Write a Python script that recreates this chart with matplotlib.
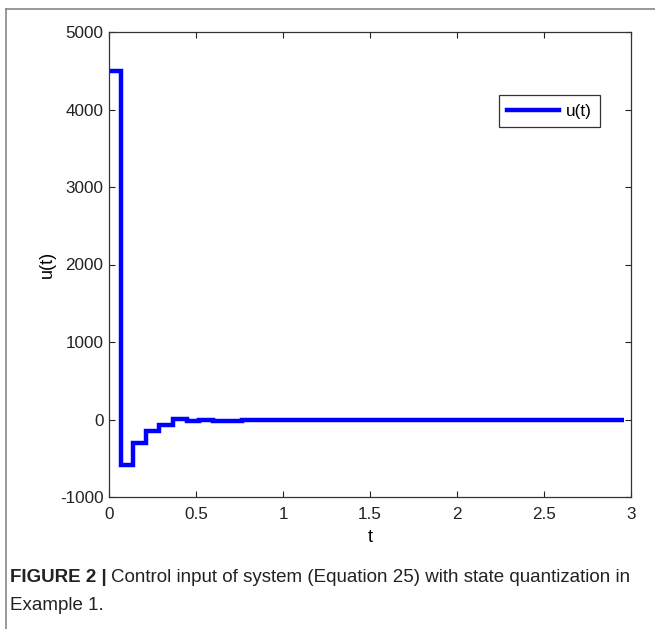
import matplotlib
matplotlib.use("Agg")
import matplotlib.pyplot as plt
from matplotlib.lines import Line2D

plt.rcParams['font.family'] = ['Liberation Sans', 'DejaVu Sans']
plt.rcParams['axes.unicode_minus'] = False

# step edges (time) and values of u(t)
t_edges = [0.0, 0.07, 0.14, 0.215, 0.29, 0.37, 0.45, 0.52, 0.60, 0.765, 2.96]
u_vals = [4500, -587, -300, -150, -70, 2, -25, 0, -15, 0]

xticks = [0, 0.5, 1, 1.5, 2, 2.5, 3]
xticklabels = ['0', '0.5', '1', '1.5', '2', '2.5', '3']
yticks = [-1000, 0, 1000, 2000, 3000, 4000, 5000]

W, H = 655, 629
fig = plt.figure(figsize=(W / 100, H / 100), dpi=100)

ax = fig.add_axes([109 / W, 1 - 497 / H, (631 - 109) / W, (497 - 32) / H])
ax.stairs(u_vals, t_edges, color='#0000ff', linewidth=3.2, baseline=None, label='u(t)')
ax.set_xlim(0, 3)
ax.set_ylim(-1000, 5000)
ax.set_xticks(xticks)
ax.set_xticklabels(xticklabels)
ax.set_yticks(yticks)
ax.tick_params(direction='in', top=True, right=True, labelsize=12.3, length=4, width=0.8, colors='#222222')
ax.tick_params(axis='x', pad=7)
ax.tick_params(axis='y', pad=4)
for s in ax.spines.values():
    s.set_linewidth(0.9)
    s.set_color('#333333')
ax.set_xlabel('t', fontsize=13, labelpad=5)
ax.set_ylabel('u(t)', fontsize=13, labelpad=3)

handle = Line2D([], [], color='#0000ff', linewidth=3.2)
leg = ax.legend([handle], ['u(t)'], loc='upper right', bbox_to_anchor=(600 / W, 1 - 95 / H),
                bbox_transform=fig.transFigure, fancybox=False, framealpha=1, edgecolor='#333333',
                fontsize=12.3, handlelength=3.0, borderpad=0.5, handletextpad=0.4, borderaxespad=0)
leg.get_frame().set_linewidth(0.9)

# page frame lines (top and left)
fig.add_artist(Line2D([6 / W, 1], [1 - 9 / H, 1 - 9 / H], color='#888888', linewidth=1.2, transform=fig.transFigure))
fig.add_artist(Line2D([6 / W, 6 / W], [1 - 9 / H, 0], color='#888888', linewidth=1.2, transform=fig.transFigure))

# caption
t1 = fig.text(10 / W, 1 - 578 / H, 'FIGURE 2 |', fontsize=13.5, fontweight='bold', va='center', ha='left', color='#222222')
fig.canvas.draw()
bb = t1.get_window_extent()
fig.text((bb.x1 + 4) / W, 1 - 578 / H, 'Control input of system (Equation 25) with state quantization in',
         fontsize=13.5, va='center', ha='left', color='#222222')
fig.text(10 / W, 1 - 605 / H, 'Example 1.', fontsize=13.5, va='center', ha='left', color='#222222')

fig.savefig('out.png', dpi=100)
